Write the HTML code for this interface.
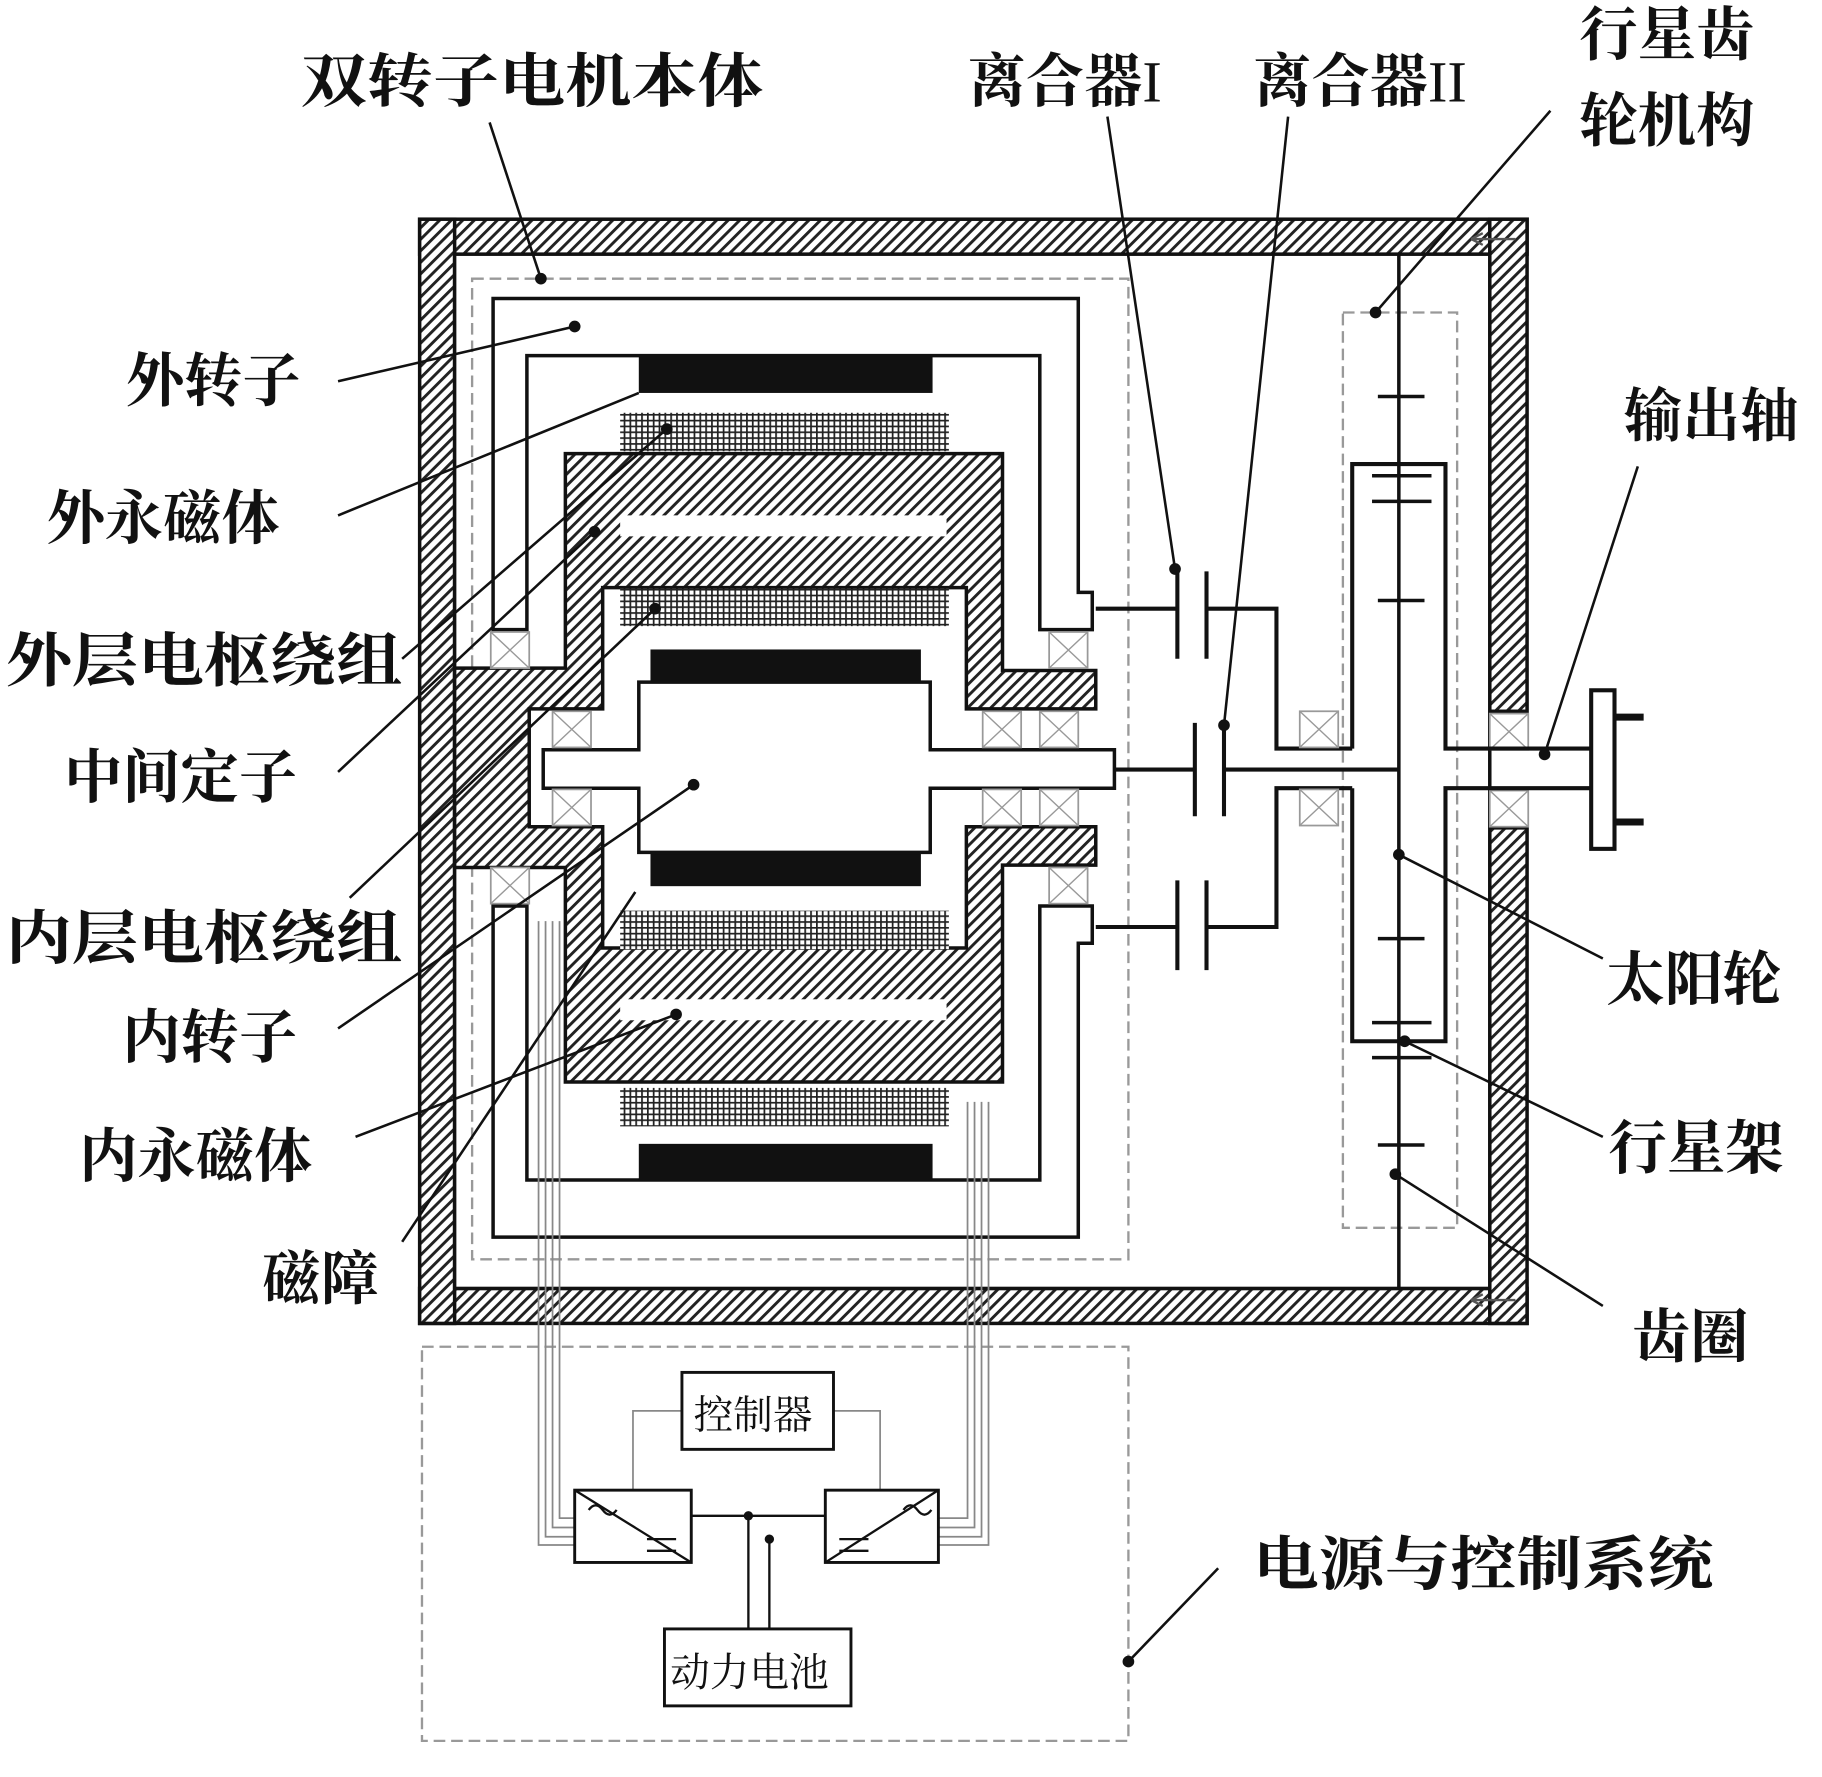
<!DOCTYPE html>
<html><head><meta charset="utf-8"><style>
html,body{margin:0;padding:0;background:#fff}
svg{display:block}
text{font-family:"Liberation Serif","Noto Serif CJK SC",serif;font-weight:bold;font-size:50px;fill:#111}
</style></head><body>
<svg width="1822" height="1777" viewBox="0 0 1563 1524" preserveAspectRatio="none" xmlns="http://www.w3.org/2000/svg">
<defs>
<pattern id="h" width="7" height="7" patternUnits="userSpaceOnUse" patternTransform="rotate(45)">
<rect width="7" height="7" fill="#fff"/><line x1="1" y1="0" x2="1" y2="7" stroke="#222" stroke-width="3"/>
</pattern>
<pattern id="g" width="5" height="5" patternUnits="userSpaceOnUse">
<rect width="5" height="5" fill="#fff"/><path d="M0,0.5H5M0.5,0V5" stroke="#222" stroke-width="2"/>
</pattern>
<g id="brg"><rect width="33" height="31" fill="#fff" stroke="#999" stroke-width="1.5"/><path d="M0,0L33,31M33,0L0,31" stroke="#999" stroke-width="1.2"/></g>
</defs>
<rect width="1563" height="1524" fill="#fff"/>

<g fill="url(#h)" stroke="#111" stroke-width="3">
<rect x="360" y="188" width="950" height="30"/>
<rect x="360" y="1105" width="950" height="30"/>
<rect x="360" y="188" width="30" height="947"/>
<rect x="1278" y="188" width="32" height="422"/>
<rect x="1278" y="710" width="32" height="425"/>
</g>
<rect x="390" y="218" width="888" height="887" fill="#fff" stroke="#111" stroke-width="3"/>
<use href="#brg" x="1278" y="612"/><use href="#brg" x="1278" y="678"/>

<rect x="405" y="239" width="563" height="841" fill="none" stroke="#999" stroke-width="2" stroke-dasharray="10,5"/>
<rect x="1152" y="268" width="98" height="785" fill="none" stroke="#999" stroke-width="2" stroke-dasharray="10,5"/>
<rect x="362" y="1155" width="606" height="338" fill="none" stroke="#999" stroke-width="2" stroke-dasharray="10,5"/>

<path d="M390,573 L485,573 L485,389 L860,389 L860,575 L940,575 L940,608 L829,608 L829,504 L517,504 L517,608 L454,608 L454,709 L517,709 L517,813 L829,813 L829,709 L940,709 L940,742 L860,742 L860,928 L485,928 L485,744 L390,744 Z" fill="url(#h)" stroke="#111" stroke-width="3"/>
<rect x="532" y="442" width="280" height="18" fill="#fff"/>
<rect x="532" y="857" width="280" height="18" fill="#fff"/>

<g fill="#fff" stroke="#111" stroke-width="3">
<path d="M937,540 L937,508 L925,508 L925,256 L423,256 L423,540 L452,540 L452,305 L892,305 L892,540 Z"/>
<path d="M937,777 L937,809 L925,809 L925,1061 L423,1061 L423,777 L452,777 L452,1012 L892,1012 L892,777 Z"/>
</g>
<use href="#brg" x="421" y="542"/><use href="#brg" x="900" y="542"/>
<use href="#brg" x="421" y="744"/><use href="#brg" x="900" y="744"/>

<rect x="548" y="306" width="252" height="31" fill="#111"/>
<rect x="548" y="981" width="252" height="31" fill="#111"/>
<rect x="532" y="354" width="282" height="33" fill="url(#g)"/>
<rect x="532" y="505" width="282" height="32" fill="url(#g)"/>
<rect x="532" y="781" width="282" height="33" fill="url(#g)"/>
<rect x="532" y="933" width="282" height="33" fill="url(#g)"/>

<rect x="558" y="557" width="232" height="30" fill="#111"/>
<rect x="558" y="730" width="232" height="30" fill="#111"/>
<path d="M548,585 L548,643 L466,643 L466,676 L548,676 L548,731 L798,731 L798,676 L956,676 L956,643 L798,643 L798,585 Z" fill="#fff" stroke="#111" stroke-width="3"/>
<use href="#brg" x="474" y="610"/><use href="#brg" x="474" y="677"/>
<use href="#brg" x="843" y="610"/><use href="#brg" x="843" y="677"/>
<use href="#brg" x="892" y="610"/><use href="#brg" x="892" y="677"/>

<g stroke="#111" stroke-width="3.5" fill="none">
<path d="M940,522H1010M1010,488V565M1035,490V565M1035,522H1095V642H1160"/>
<path d="M940,795H1010M1010,755V832M1035,755V832M1035,795H1095V676H1160"/>
<path d="M956,660H1025M1025,620V700M1050,620V700M1050,660H1200"/>
<path d="M1160,642V398H1240V642H1365M1160,676V893H1240V676H1365"/>
<rect x="1365" y="592" width="20" height="136"/>
<path d="M1385,615H1410M1385,705H1410" stroke-width="6"/>
<path d="M1200,218V1105" stroke-width="3"/>
<path d="M1182,340H1222M1177,408H1228M1177,430H1228M1182,515H1222M1182,805H1222M1177,877H1228M1177,907H1228M1182,982H1222" stroke-width="3"/>
</g>
<use href="#brg" x="1115" y="610"/><use href="#brg" x="1115" y="677"/>
<path d="M1262,205H1300M1262,205L1272,200M1262,205L1272,210M1262,1115H1300M1262,1115L1272,1110M1262,1115L1272,1120" stroke="#555" stroke-width="2"/>

<g stroke="#888" stroke-width="1.5" fill="none">
<path d="M462,790V1325H493M468,790V1318H493M474,790V1310H493M480,790V1302H493"/>
<path d="M848,945V1325H805M842,945V1318H805M836,945V1310H805M830,945V1302H805"/>
<path d="M585,1210H543V1278M715,1210H755V1278"/>
</g>
<g stroke="#111" stroke-width="2.5" fill="#fff">
<rect x="585" y="1177" width="130" height="66"/>
<rect x="570" y="1397" width="160" height="66"/>
<rect x="493" y="1278" width="100" height="62"/>
<rect x="708" y="1278" width="97" height="62"/>
</g>
<g stroke="#111" stroke-width="2" fill="none">
<path d="M493,1278L593,1340M708,1340L805,1278"/>
<path d="M505,1295q6,-8 12,0t12,0M775,1295q6,-8 12,0t12,0"/>
<path d="M555,1320H580M555,1330H580M720,1320H745M720,1330H745"/>
<path d="M593,1300H708M642,1300V1397M660,1320V1397"/>
</g>
<circle cx="642" cy="1300" r="4" fill="#111"/><circle cx="660" cy="1320" r="4" fill="#111"/>

<g stroke="#111" stroke-width="2.2">
<line x1="420" y1="105" x2="464" y2="239"/>
<line x1="950" y1="100" x2="1008" y2="488"/>
<line x1="1105" y1="100" x2="1050" y2="622"/>
<line x1="1330" y1="95" x2="1180" y2="268"/>
<line x1="290" y1="327" x2="493" y2="280"/>
<line x1="290" y1="442" x2="548" y2="337"/>
<line x1="345" y1="565" x2="572" y2="368"/>
<line x1="290" y1="662" x2="510" y2="456"/>
<line x1="300" y1="770" x2="562" y2="522"/>
<line x1="290" y1="882" x2="595" y2="673"/>
<line x1="305" y1="975" x2="580" y2="870"/>
<line x1="345" y1="1065" x2="545" y2="765"/>
<line x1="1405" y1="400" x2="1325" y2="647"/>
<line x1="1375" y1="822" x2="1200" y2="733"/>
<line x1="1375" y1="975" x2="1205" y2="893"/>
<line x1="1375" y1="1120" x2="1197" y2="1007"/>
<line x1="1045" y1="1345" x2="968" y2="1425"/>
</g>
<g fill="#111">
<circle cx="464" cy="239" r="5"/><circle cx="1008" cy="488" r="5"/><circle cx="1050" cy="622" r="5"/>
<circle cx="1180" cy="268" r="5"/><circle cx="493" cy="280" r="5"/><circle cx="572" cy="368" r="5"/>
<circle cx="510" cy="456" r="5"/><circle cx="562" cy="522" r="5"/><circle cx="595" cy="673" r="5"/>
<circle cx="580" cy="870" r="5"/><circle cx="1325" cy="647" r="5"/><circle cx="1200" cy="733" r="5"/>
<circle cx="1205" cy="893" r="5"/><circle cx="1197" cy="1007" r="5"/><circle cx="968" cy="1425" r="5"/>
</g>

<text x="258" y="87" textLength="397" lengthAdjust="spacingAndGlyphs">双转子电机本体</text>
<text x="830" y="87">离合器<tspan style="font-weight:normal">I</tspan></text>
<text x="1075" y="87">离合器<tspan style="font-weight:normal">II</tspan></text>
<text x="1355" y="47">行星齿</text>
<text x="1355" y="121">轮机构</text>
<text x="108" y="344">外转子</text>
<text x="40" y="462">外永磁体</text>
<text x="5" y="584" textLength="340" lengthAdjust="spacingAndGlyphs">外层电枢绕组</text>
<text x="55" y="684">中间定子</text>
<text x="5" y="822" textLength="340" lengthAdjust="spacingAndGlyphs">内层电枢绕组</text>
<text x="105" y="907">内转子</text>
<text x="68" y="1009">内永磁体</text>
<text x="225" y="1114">磁障</text>
<text x="1393" y="374">输出轴</text>
<text x="1378" y="857">太阳轮</text>
<text x="1380" y="1002">行星架</text>
<text x="1400" y="1164">齿圈</text>
<text x="1075" y="1359" textLength="395" lengthAdjust="spacingAndGlyphs">电源与控制系统</text>
<text x="595" y="1225" style="font-size:34px;font-weight:normal">控制器</text>
<text x="575" y="1446" style="font-size:34px;font-weight:normal">动力电池</text>
</svg>
</body></html>
